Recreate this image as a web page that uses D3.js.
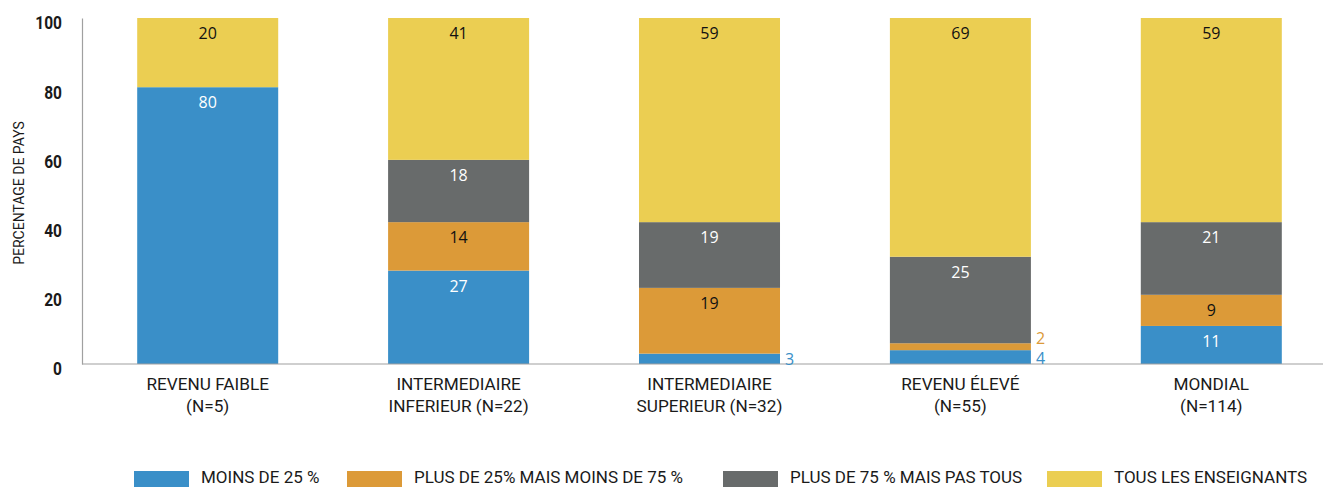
<!DOCTYPE html>
<html>
<head>
<meta charset="utf-8">
<script src="https://cdn.jsdelivr.net/npm/d3@7"></script>
<style>
  body { margin: 0; background: #fff; }
</style>
</head>
<body>
<div id="chart"></div>
<script>
// categories (two lines each)
const categories = ["REVENU FAIBLE|(N=5)", "INTERMEDIAIRE|INFERIEUR (N=22)", "INTERMEDIAIRE|SUPERIEUR (N=32)", "REVENU ÉLEVÉ|(N=55)", "MONDIAL|(N=114)"];
const seriesNames = ["MOINS DE 25 %", "PLUS DE 25% MAIS MOINS DE 75 %", "PLUS DE 75 % MAIS PAS TOUS", "TOUS LES ENSEIGNANTS"];
const moins25 = [80, 27, 3, 4, 11];
const entre25et75 = [0, 14, 19, 2, 9];
const plus75 = [0, 18, 19, 25, 21];
const tous = [20, 41, 59, 69, 59];
const yTicks = [0, 20, 40, 60, 80, 100];

const colors = ["#3a8fc8", "#dc9a38", "#686b6b", "#ebce52"];
const labelColors = ["#fff", "#111", "#fff", "#111"];

const width = 1323, height = 487;

const svg = d3.select("#chart")
  .append("svg")
    .attr("width", width)
    .attr("height", height);

// build rows for the stack
const keys = ["k0", "k1", "k2", "k3"];
const data = categories.map((c, i) => ({cat: c, k0: moins25[i], k1: entre25et75[i], k2: plus75[i], k3: tous[i]}));
const stacked = d3.stack().keys(keys)(data);

const x = d3.scaleBand()
  .domain(categories)
  .range([82, 1337])
  .paddingInner(0.438)
  .paddingOuter(0.22);

const y = d3.scaleLinear()
  .domain([0, 100])
  .range([364, 18]);

// bars
svg.append("g")
  .selectAll("g")
  .data(stacked)
  .join("g")
    .attr("fill", (d, i) => colors[i])
  .selectAll("rect")
  .data(d => d)
  .join("rect")
    .attr("x", d => x(d.data.cat))
    .attr("y", d => y(d[1]))
    .attr("width", x.bandwidth())
    .attr("height", d => y(d[0]) - y(d[1]));

// y axis (labels squeezed to look condensed)
const squeeze = 0.84;
const yAxis = svg.append("g")
  .attr("transform", "translate(82,0)")
  .call(d3.axisLeft(y).tickValues(yTicks).tickSize(0));
yAxis.select(".domain").attr("stroke", "#a0a0a0").attr("stroke-width", 1.2);
yAxis.selectAll("text")
  .attr("x", -20 / squeeze)
  .attr("dy", "0.32em")
  .attr("y", 5)
  .attr("transform", `scale(${squeeze},1)`)
  .style("font-family", "Roboto, sans-serif")
  .style("font-weight", "bold")
  .style("font-size", "18.5px")
  .attr("fill", "#1a1a1a");

// baseline
svg.append("line")
  .attr("x1", 82).attr("x2", width)
  .attr("y1", y(0)).attr("y2", y(0))
  .attr("stroke", "#a0a0a0")
  .attr("stroke-width", 1.2);

// y label
svg.append("text")
  .attr("transform", "translate(24, 193) rotate(-90)")
  .attr("text-anchor", "middle")
  .style("font-family", "Roboto, sans-serif")
  .style("font-size", "14px")
  .attr("fill", "#1a1a1a")
  .text("PERCENTAGE DE PAYS");

// value labels inside segments
const lab = svg.append("g")
  .style("font-family", "'Open Sans', sans-serif")
  .style("font-size", "16px");

stacked.forEach((s, si) => {
  s.forEach(d => {
    const v = d[1] - d[0];
    if (v >= 5) {
      lab.append("text")
        .attr("x", x(d.data.cat) + x.bandwidth() / 2)
        .attr("y", y(d[1]) + 21)
        .attr("text-anchor", "middle")
        .attr("fill", labelColors[si])
        .text(v);
    }
  });
});

// small values labelled to the right of the bar
data.forEach(row => {
  let prev = null;
  keys.forEach((k, si) => {
    const s = stacked[si].find(d => d.data.cat === row.cat);
    const v = s[1] - s[0];
    if (v > 0 && v < 5) {
      let cy = y((s[0] + s[1]) / 2) + 1;
      if (prev !== null) cy = Math.min(cy, prev - 20);
      prev = cy;
      lab.append("text")
        .attr("x", x(row.cat) + x.bandwidth() + 5)
        .attr("y", cy)
        .attr("dy", "0.35em")
        .attr("fill", colors[si])
        .text(v);
    }
  });
});

// category labels
const catG = svg.append("g")
  .style("font-family", "Roboto, sans-serif")
  .style("font-size", "17.2px")
  .attr("fill", "#1a1a1a");
categories.forEach(c => {
  const lines = c.split("|");
  lines.forEach((l, li) => {
    catG.append("text")
      .attr("x", x(c) + x.bandwidth() / 2)
      .attr("y", 390 + li * 22)
      .attr("text-anchor", "middle")
      .text(l);
  });
});

// legend
const legendX = [134, 347, 723, 1047];
const legend = svg.append("g")
  .style("font-family", "Roboto, sans-serif")
  .style("font-size", "17px");
seriesNames.forEach((n, i) => {
  legend.append("rect")
    .attr("x", legendX[i]).attr("y", 471)
    .attr("width", 55).attr("height", 18)
    .attr("fill", colors[i]);
  legend.append("text")
    .attr("x", legendX[i] + 67).attr("y", 483)
    .attr("fill", "#1a1a1a")
    .text(n);
});
</script>
</body>
</html>
